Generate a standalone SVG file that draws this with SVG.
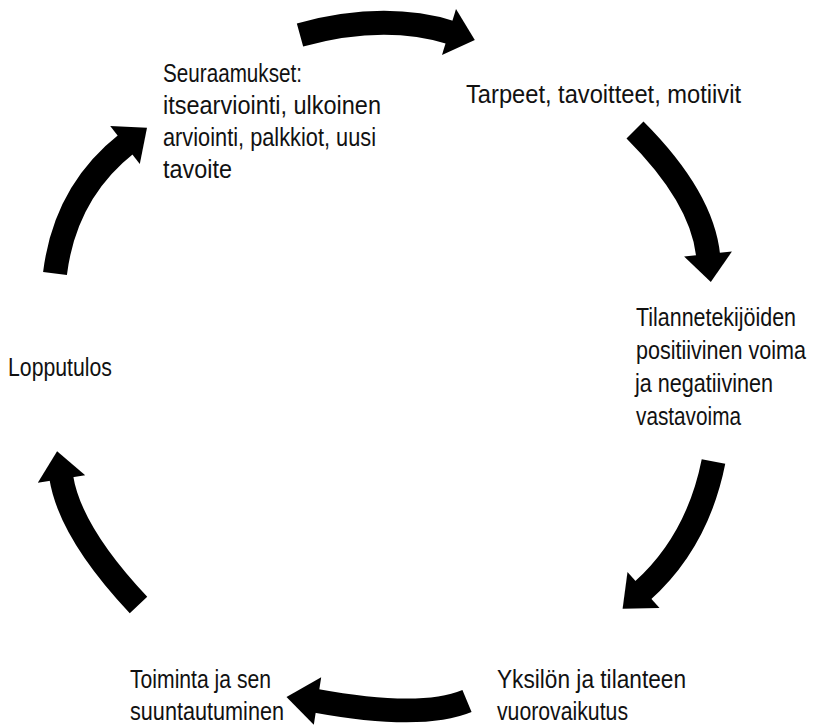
<svg xmlns="http://www.w3.org/2000/svg" width="814" height="727" viewBox="0 0 814 727">
<style>
.lbl{font-family:"Liberation Sans Narrow","Liberation Sans",Arial,sans-serif;font-size:25.5px;fill:#111;}
.body{fill:none;stroke:#000;stroke-width:24;stroke-linecap:butt;}
.head{fill:#000;stroke:none;}
</style>
<rect width="814" height="727" fill="#fff"/>
<g id="connectors">
<g id="arrow-top">
<path class="body" d="M300,35 Q384,12 451,32.6"/>
<polygon class="head" points="456,9.1 474.8,39.9 442,54.9"/>
</g>
<g id="arrow-right-top">
<path class="body" d="M635,130 Q702.3,197.3 708.2,256"/>
<polygon class="head" points="684.1,256.4 710.8,281.9 731.9,251.6"/>
</g>
<g id="arrow-right-bottom">
<path class="body" d="M713.5,461.5 Q697.5,541.7 642,591.3"/>
<polygon class="head" points="627.5,572.1 622.6,608.7 659.5,607.9"/>
</g>
<g id="arrow-bottom">
<path class="body" d="M467,701 Q421,720 315.5,700.7"/>
<polygon class="head" points="321.2,677.3 286.5,697 313.8,724.7"/>
</g>
<g id="arrow-left-bottom">
<path class="body" d="M138.5,605 Q69.9,532.1 61.2,477"/>
<polygon class="head" points="85.2,475.3 57.1,451.3 37.8,482.7"/>
</g>
<g id="arrow-left-top">
<path class="body" d="M55,273.5 Q65.2,192.1 126.6,143.8"/>
<polygon class="head" points="110.2,126.1 147,127.7 139.8,163.9"/>
</g>
</g>
<g id="node-seuraamukset">
<text class="lbl" x="163" y="82" textLength="139" lengthAdjust="spacingAndGlyphs">Seuraamukset:</text>
<text class="lbl" x="163" y="114" textLength="218" lengthAdjust="spacingAndGlyphs">itsearviointi, ulkoinen</text>
<text class="lbl" x="163" y="146" textLength="213" lengthAdjust="spacingAndGlyphs">arviointi, palkkiot, uusi</text>
<text class="lbl" x="163" y="178" textLength="69" lengthAdjust="spacingAndGlyphs">tavoite</text>
</g>
<g id="node-tarpeet">
<text class="lbl" x="466" y="103" textLength="275" lengthAdjust="spacingAndGlyphs">Tarpeet, tavoitteet, motiivit</text>
</g>
<g id="node-tilannetekijat">
<text class="lbl" x="636" y="326" textLength="160" lengthAdjust="spacingAndGlyphs">Tilannetekijöiden</text>
<text class="lbl" x="636" y="359" textLength="170" lengthAdjust="spacingAndGlyphs">positiivinen voima</text>
<text class="lbl" x="635" y="392" textLength="138" lengthAdjust="spacingAndGlyphs">ja negatiivinen</text>
<text class="lbl" x="636" y="425" textLength="105" lengthAdjust="spacingAndGlyphs">vastavoima</text>
</g>
<g id="node-yksilo">
<text class="lbl" x="497" y="688" textLength="189" lengthAdjust="spacingAndGlyphs">Yksilön ja tilanteen</text>
<text class="lbl" x="497" y="720" textLength="131" lengthAdjust="spacingAndGlyphs">vuorovaikutus</text>
</g>
<g id="node-toiminta">
<text class="lbl" x="130" y="688" textLength="141" lengthAdjust="spacingAndGlyphs">Toiminta ja sen</text>
<text class="lbl" x="130" y="720" textLength="154" lengthAdjust="spacingAndGlyphs">suuntautuminen</text>
</g>
<g id="node-lopputulos">
<text class="lbl" x="8" y="376" textLength="104" lengthAdjust="spacingAndGlyphs">Lopputulos</text>
</g>
</svg>
